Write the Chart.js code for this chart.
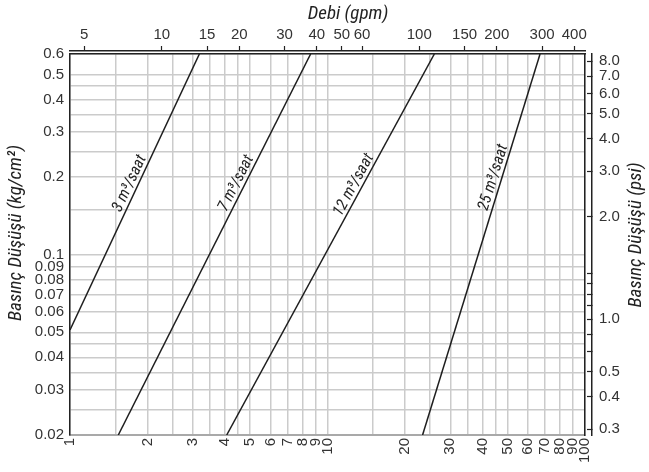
<!DOCTYPE html>
<html>
<head>
<meta charset="utf-8">
<script src="https://cdn.jsdelivr.net/npm/chart.js@4.4.1/dist/chart.umd.min.js"></script>
<style>
  html, body { margin: 0; padding: 0; background: #fff; }
</style>
</head>
<body>
<canvas id="grafik" width="649" height="472"></canvas>
<script>
// debi m3/saat (alt eksen), basinc dusumu kg/cm2 (sol eksen)
const flows3 = [1, 3.18];
const drops3 = [0.0511, 0.6];
const flows7 = [1.54, 8.6];
const drops7 = [0.02, 0.6];
const flows12 = [4.06, 26.0];
const drops12 = [0.02, 0.6];
const flows25 = [23.4, 66.9];
const drops25 = [0.02, 0.6];
const seriesNames = ['3 m³/saat', '7 m³/saat', '12 m³/saat', '25 m³/saat'];
const labelDrops = [0.183, 0.183, 0.18, 0.195];

// grid lines and tick labels
const flowGrid = [1, 1.5, 2, 2.5, 3, 3.5, 4, 4.5, 5, 6, 7, 8, 9, 10, 15, 20, 25, 30, 35, 40, 45, 50, 60, 70, 80, 90, 100];
const flowLabels = [1, 2, 3, 4, 5, 6, 7, 8, 9, 10, 20, 30, 40, 50, 60, 70, 80, 90, 100];
const dropGrid = [0.02, 0.025, 0.03, 0.035, 0.04, 0.045, 0.05, 0.06, 0.07, 0.08, 0.09, 0.1, 0.15, 0.2, 0.25, 0.3, 0.35, 0.4, 0.45, 0.5, 0.6];
const dropLabels = [0.02, 0.03, 0.04, 0.05, 0.06, 0.07, 0.08, 0.09, 0.1, 0.2, 0.3, 0.4, 0.5, 0.6];
const gpmTicks = [5, 10, 15, 20, 30, 40, 50, 60, 100, 150, 200, 300, 400];
const psiTicks = [8, 7, 6, 5, 4, 3, 2, 1.2, 1.1, 1.0, 0.9, 0.8, 0.7, 0.6, 0.5, 0.4, 0.3];
const psiLabels = ['8.0', '7.0', '6.0', '5.0', '4.0', '3.0', '2.0', '', '', '', '', '1.0', '', '', '0.5', '0.4', '0.3'];

const GPM = 4.4029; // gpm per m3/saat
const PSI = 14.223; // psi per kg/cm2

const tickFont = { family: '"Liberation Sans", Arial, sans-serif', size: 15 };
const titleFont = 'italic 19px "Liberation Sans Narrow", "Roboto Condensed", "DejaVu Sans Condensed", sans-serif';
const lineFont = 'italic 16px "Liberation Sans Narrow", "Roboto Condensed", "DejaVu Sans Condensed", sans-serif';

function pts(xs, ys) {
    return xs.map((x, i) => ({ x: x, y: ys[i] }));
}

function lineSet(xs, ys) {
    return {
        data: pts(xs, ys),
        showLine: true,
        borderColor: '#1e1e1e',
        borderWidth: 1.5,
        pointRadius: 0,
        fill: false
    };
}

const titles = {
    id: 'titles',
    afterDraw(chart) {
        const ctx = chart.ctx;
        ctx.save();
        ctx.fillStyle = '#222';
        ctx.font = titleFont;
        ctx.textAlign = 'center';
        ctx.textBaseline = 'middle';
        ctx.fillText('Debi (gpm)', 348, 14);
        ctx.save();
        ctx.translate(16, 233);
        ctx.rotate(-Math.PI / 2);
        ctx.fillText('Basınç Düşüşü (kg/cm²)', 0, 0);
        ctx.restore();
        ctx.save();
        ctx.translate(636, 235);
        ctx.rotate(-Math.PI / 2);
        ctx.fillText('Basınç Düşüşü (psi)', 0, 0);
        ctx.restore();
        ctx.restore();
    },
    afterDatasetsDraw(chart) {
        const ctx = chart.ctx;
        const xs = chart.scales.x, ys = chart.scales.y;
        ctx.save();
        ctx.fillStyle = '#222';
        ctx.font = lineFont;
        ctx.textAlign = 'center';
        ctx.textBaseline = 'alphabetic';
        chart.data.datasets.forEach((ds, i) => {
            const a = ds.data[0], b = ds.data[ds.data.length - 1];
            const t = (Math.log(labelDrops[i]) - Math.log(a.y)) / (Math.log(b.y) - Math.log(a.y));
            const q = Math.exp(Math.log(a.x) + t * (Math.log(b.x) - Math.log(a.x)));
            const px = xs.getPixelForValue(q), py = ys.getPixelForValue(labelDrops[i]);
            const ang = Math.atan2(ys.getPixelForValue(b.y) - ys.getPixelForValue(a.y),
                                   xs.getPixelForValue(b.x) - xs.getPixelForValue(a.x));
            ctx.save();
            ctx.translate(px, py);
            ctx.rotate(ang);
            ctx.fillText(seriesNames[i], 0, -4);
            ctx.restore();
        });
        ctx.restore();
    }
};

new Chart(document.getElementById('grafik').getContext('2d'), {
    type: 'scatter',
    data: {
        datasets: [
            lineSet(flows3, drops3),
            lineSet(flows7, drops7),
            lineSet(flows12, drops12),
            lineSet(flows25, drops25)
        ]
    },
    options: {
        responsive: false,
        animation: false,
        layout: { padding: 0 },
        plugins: { legend: { display: false }, tooltip: { enabled: false } },
        scales: {
            x: {
                type: 'logarithmic', position: 'bottom', min: 1, max: 100,
                afterFit: s => { s.height = 37; },
                afterBuildTicks: s => { s.ticks = flowGrid.map(v => ({ value: v })); },
                grid: { color: '#cbcbcb', lineWidth: 1.5, drawTicks: false },
                border: { color: '#a9a9a9', width: 2 },
                ticks: {
                    autoSkip: false, minRotation: 90, maxRotation: 90, padding: 3,
                    color: '#333', font: tickFont,
                    callback: v => flowLabels.includes(v) ? String(v) : ''
                }
            },
            y: {
                type: 'logarithmic', position: 'left', min: 0.02, max: 0.6,
                afterFit: s => { s.width = 70; },
                afterBuildTicks: s => { s.ticks = dropGrid.map(v => ({ value: v })); },
                grid: { color: '#cbcbcb', lineWidth: 1.5, drawTicks: false },
                border: { color: '#222', width: 1.5 },
                ticks: {
                    autoSkip: false, padding: 6, color: '#333', font: tickFont,
                    callback: v => dropLabels.includes(v) ? String(v) : ''
                }
            },
            boxTop: {
                type: 'logarithmic', position: 'top', min: 1, max: 100, weight: 0,
                afterFit: s => { s.height = 3; },
                grid: { drawOnChartArea: false, drawTicks: false },
                border: { color: '#222', width: 1.5 },
                ticks: { display: false }
            },
            gpm: {
                type: 'logarithmic', position: 'top', min: GPM, max: 100 * GPM, weight: 1,
                afterFit: s => { s.height = 51; },
                afterBuildTicks: s => { s.ticks = gpmTicks.map(v => ({ value: v })); },
                grid: { drawOnChartArea: false, drawTicks: true, tickLength: 5, tickColor: '#222', tickWidth: 1.2 },
                border: { color: '#222', width: 1.5 },
                ticks: {
                    autoSkip: false, maxRotation: 0, padding: 2, color: '#333', font: tickFont,
                    callback: v => String(v)
                }
            },
            boxRight: {
                type: 'logarithmic', position: 'right', min: 0.02, max: 0.6, weight: 0,
                afterFit: s => { s.width = 7; },
                grid: { drawOnChartArea: false, drawTicks: false },
                border: { color: '#222', width: 1.5 },
                ticks: { display: false }
            },
            psi: {
                type: 'logarithmic', position: 'right', min: 0.02 * PSI, max: 0.6 * PSI, weight: 1,
                afterFit: s => { s.width = 57; },
                afterBuildTicks: s => { s.ticks = psiTicks.map(v => ({ value: v })); },
                grid: { drawOnChartArea: false, drawTicks: true, tickLength: -5, tickColor: '#222', tickWidth: 1.2 },
                border: { color: '#222', width: 1.5 },
                ticks: {
                    autoSkip: false, padding: 12, color: '#333', font: tickFont,
                    callback: (v, i) => psiLabels[i]
                }
            }
        }
    },
    plugins: [titles]
});
</script>
</body>
</html>
